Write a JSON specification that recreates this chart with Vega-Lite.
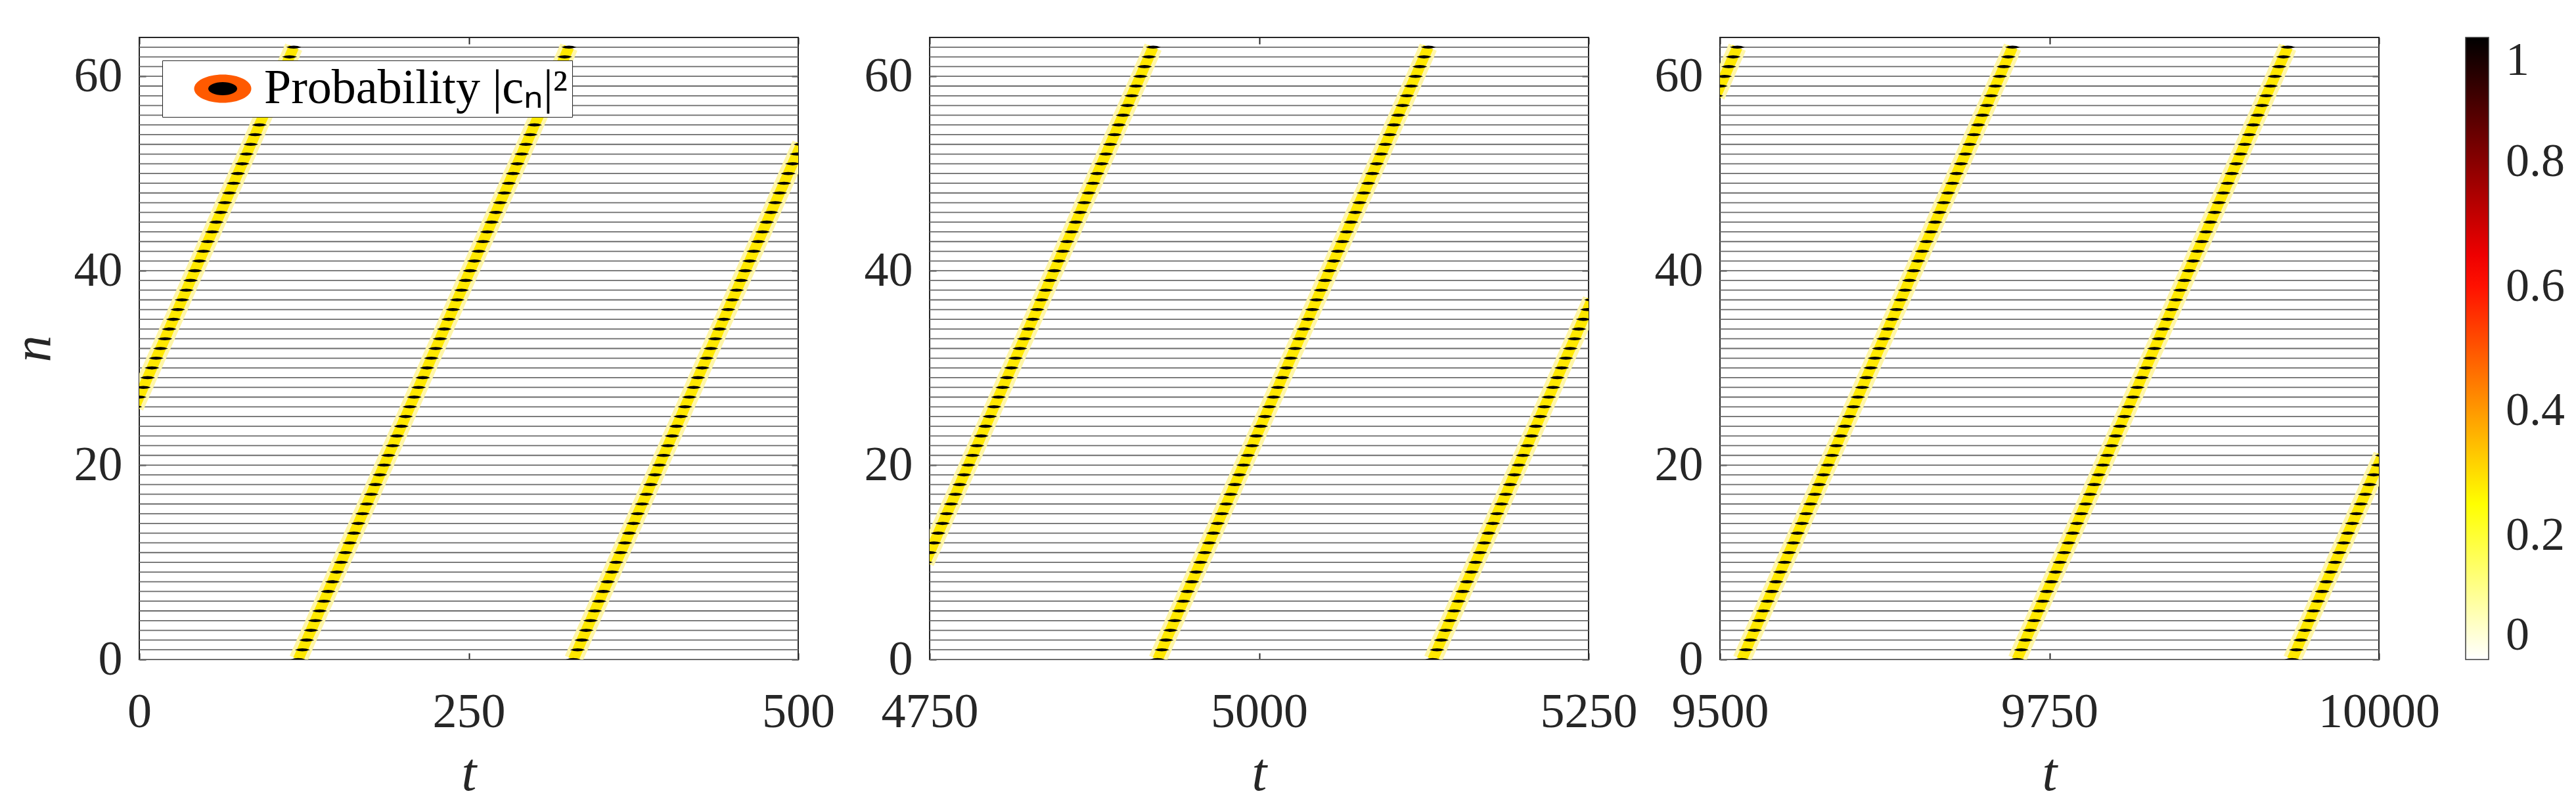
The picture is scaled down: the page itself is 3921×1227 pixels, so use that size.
{
"$schema": "https://vega.github.io/schema/vega-lite/v6.json",
"padding": {"left": 8, "top": 55, "right": 20, "bottom": 0},
"background": "white",
"datasets": {
"p1": [
{"s":"A","n":26,"t":-3.5,"p":1},{"s":"A","n":27,"t":-0.2,"p":1},{"s":"A","n":28,"t":3.1,"p":1},{"s":"A","n":29,"t":6.3,"p":1},{"s":"A","n":30,"t":9.6,"p":1},{"s":"A","n":31,"t":12.8,"p":1},{"s":"A","n":32,"t":16.1,"p":1},{"s":"A","n":33,"t":19.4,"p":1},{"s":"A","n":34,"t":22.6,"p":1},{"s":"A","n":35,"t":25.9,"p":1},{"s":"A","n":36,"t":29.2,"p":1},{"s":"A","n":37,"t":32.4,"p":1},{"s":"A","n":38,"t":35.7,"p":1},{"s":"A","n":39,"t":38.9,"p":1},{"s":"A","n":40,"t":42.2,"p":1},{"s":"A","n":41,"t":45.5,"p":1},{"s":"A","n":42,"t":48.7,"p":1},{"s":"A","n":43,"t":52,"p":1},{"s":"A","n":44,"t":55.3,"p":1},{"s":"A","n":45,"t":58.5,"p":1},{"s":"A","n":46,"t":61.8,"p":1},{"s":"A","n":47,"t":65,"p":1},{"s":"A","n":48,"t":68.3,"p":1},{"s":"A","n":49,"t":71.6,"p":1},{"s":"A","n":50,"t":74.8,"p":1},{"s":"A","n":51,"t":78.1,"p":1},{"s":"A","n":52,"t":81.4,"p":1},{"s":"A","n":53,"t":84.6,"p":1},{"s":"A","n":54,"t":87.9,"p":1},{"s":"A","n":55,"t":91.1,"p":1},{"s":"A","n":56,"t":94.4,"p":1},{"s":"A","n":57,"t":97.7,"p":1},{"s":"A","n":58,"t":100.9,"p":1},{"s":"A","n":59,"t":104.2,"p":1},{"s":"A","n":60,"t":107.5,"p":1},{"s":"A","n":61,"t":110.7,"p":1},{"s":"A","n":62,"t":114,"p":1},{"s":"A","n":63,"t":117.2,"p":1},
{"s":"B","n":0,"t":120.5,"p":1},{"s":"B","n":1,"t":123.8,"p":1},{"s":"B","n":2,"t":127,"p":1},{"s":"B","n":3,"t":130.3,"p":1},{"s":"B","n":4,"t":133.6,"p":1},{"s":"B","n":5,"t":136.8,"p":1},{"s":"B","n":6,"t":140.1,"p":1},{"s":"B","n":7,"t":143.3,"p":1},{"s":"B","n":8,"t":146.6,"p":1},{"s":"B","n":9,"t":149.9,"p":1},{"s":"B","n":10,"t":153.1,"p":1},{"s":"B","n":11,"t":156.4,"p":1},{"s":"B","n":12,"t":159.7,"p":1},{"s":"B","n":13,"t":162.9,"p":1},{"s":"B","n":14,"t":166.2,"p":1},{"s":"B","n":15,"t":169.4,"p":1},{"s":"B","n":16,"t":172.7,"p":1},{"s":"B","n":17,"t":176,"p":1},{"s":"B","n":18,"t":179.2,"p":1},{"s":"B","n":19,"t":182.5,"p":1},{"s":"B","n":20,"t":185.8,"p":1},{"s":"B","n":21,"t":189,"p":1},{"s":"B","n":22,"t":192.3,"p":1},{"s":"B","n":23,"t":195.5,"p":1},{"s":"B","n":24,"t":198.8,"p":1},{"s":"B","n":25,"t":202.1,"p":1},{"s":"B","n":26,"t":205.3,"p":1},{"s":"B","n":27,"t":208.6,"p":1},{"s":"B","n":28,"t":211.9,"p":1},{"s":"B","n":29,"t":215.1,"p":1},{"s":"B","n":30,"t":218.4,"p":1},{"s":"B","n":31,"t":221.6,"p":1},{"s":"B","n":32,"t":224.9,"p":1},{"s":"B","n":33,"t":228.2,"p":1},{"s":"B","n":34,"t":231.4,"p":1},{"s":"B","n":35,"t":234.7,"p":1},{"s":"B","n":36,"t":238,"p":1},{"s":"B","n":37,"t":241.2,"p":1},{"s":"B","n":38,"t":244.5,"p":1},{"s":"B","n":39,"t":247.7,"p":1},{"s":"B","n":40,"t":251,"p":1},{"s":"B","n":41,"t":254.3,"p":1},{"s":"B","n":42,"t":257.5,"p":1},{"s":"B","n":43,"t":260.8,"p":1},{"s":"B","n":44,"t":264.1,"p":1},{"s":"B","n":45,"t":267.3,"p":1},{"s":"B","n":46,"t":270.6,"p":1},{"s":"B","n":47,"t":273.8,"p":1},{"s":"B","n":48,"t":277.1,"p":1},{"s":"B","n":49,"t":280.4,"p":1},{"s":"B","n":50,"t":283.6,"p":1},{"s":"B","n":51,"t":286.9,"p":1},{"s":"B","n":52,"t":290.2,"p":1},{"s":"B","n":53,"t":293.4,"p":1},{"s":"B","n":54,"t":296.7,"p":1},{"s":"B","n":55,"t":299.9,"p":1},{"s":"B","n":56,"t":303.2,"p":1},{"s":"B","n":57,"t":306.5,"p":1},{"s":"B","n":58,"t":309.7,"p":1},{"s":"B","n":59,"t":313,"p":1},{"s":"B","n":60,"t":316.3,"p":1},{"s":"B","n":61,"t":319.5,"p":1},{"s":"B","n":62,"t":322.8,"p":1},{"s":"B","n":63,"t":326,"p":1},
{"s":"C","n":0,"t":329.3,"p":1},{"s":"C","n":1,"t":332.6,"p":1},{"s":"C","n":2,"t":335.8,"p":1},{"s":"C","n":3,"t":339.1,"p":1},{"s":"C","n":4,"t":342.4,"p":1},{"s":"C","n":5,"t":345.6,"p":1},{"s":"C","n":6,"t":348.9,"p":1},{"s":"C","n":7,"t":352.1,"p":1},{"s":"C","n":8,"t":355.4,"p":1},{"s":"C","n":9,"t":358.7,"p":1},{"s":"C","n":10,"t":361.9,"p":1},{"s":"C","n":11,"t":365.2,"p":1},{"s":"C","n":12,"t":368.5,"p":1},{"s":"C","n":13,"t":371.7,"p":1},{"s":"C","n":14,"t":375,"p":1},{"s":"C","n":15,"t":378.2,"p":1},{"s":"C","n":16,"t":381.5,"p":1},{"s":"C","n":17,"t":384.8,"p":1},{"s":"C","n":18,"t":388,"p":1},{"s":"C","n":19,"t":391.3,"p":1},{"s":"C","n":20,"t":394.6,"p":1},{"s":"C","n":21,"t":397.8,"p":1},{"s":"C","n":22,"t":401.1,"p":1},{"s":"C","n":23,"t":404.3,"p":1},{"s":"C","n":24,"t":407.6,"p":1},{"s":"C","n":25,"t":410.9,"p":1},{"s":"C","n":26,"t":414.1,"p":1},{"s":"C","n":27,"t":417.4,"p":1},{"s":"C","n":28,"t":420.7,"p":1},{"s":"C","n":29,"t":423.9,"p":1},{"s":"C","n":30,"t":427.2,"p":1},{"s":"C","n":31,"t":430.4,"p":1},{"s":"C","n":32,"t":433.7,"p":1},{"s":"C","n":33,"t":437,"p":1},{"s":"C","n":34,"t":440.2,"p":1},{"s":"C","n":35,"t":443.5,"p":1},{"s":"C","n":36,"t":446.8,"p":1},{"s":"C","n":37,"t":450,"p":1},{"s":"C","n":38,"t":453.3,"p":1},{"s":"C","n":39,"t":456.5,"p":1},{"s":"C","n":40,"t":459.8,"p":1},{"s":"C","n":41,"t":463.1,"p":1},{"s":"C","n":42,"t":466.3,"p":1},{"s":"C","n":43,"t":469.6,"p":1},{"s":"C","n":44,"t":472.9,"p":1},{"s":"C","n":45,"t":476.1,"p":1},{"s":"C","n":46,"t":479.4,"p":1},{"s":"C","n":47,"t":482.6,"p":1},{"s":"C","n":48,"t":485.9,"p":1},{"s":"C","n":49,"t":489.2,"p":1},{"s":"C","n":50,"t":492.4,"p":1},{"s":"C","n":51,"t":495.7,"p":1},{"s":"C","n":52,"t":499,"p":1},{"s":"C","n":53,"t":502.2,"p":1}
],
"p2": [
{"s":"A","n":10,"t":4746.7,"p":1},{"s":"A","n":11,"t":4750,"p":1},{"s":"A","n":12,"t":4753.3,"p":1},{"s":"A","n":13,"t":4756.5,"p":1},{"s":"A","n":14,"t":4759.8,"p":1},{"s":"A","n":15,"t":4763,"p":1},{"s":"A","n":16,"t":4766.3,"p":1},{"s":"A","n":17,"t":4769.6,"p":1},{"s":"A","n":18,"t":4772.8,"p":1},{"s":"A","n":19,"t":4776.1,"p":1},{"s":"A","n":20,"t":4779.4,"p":1},{"s":"A","n":21,"t":4782.6,"p":1},{"s":"A","n":22,"t":4785.9,"p":1},{"s":"A","n":23,"t":4789.1,"p":1},{"s":"A","n":24,"t":4792.4,"p":1},{"s":"A","n":25,"t":4795.7,"p":1},{"s":"A","n":26,"t":4798.9,"p":1},{"s":"A","n":27,"t":4802.2,"p":1},{"s":"A","n":28,"t":4805.5,"p":1},{"s":"A","n":29,"t":4808.7,"p":1},{"s":"A","n":30,"t":4812,"p":1},{"s":"A","n":31,"t":4815.2,"p":1},{"s":"A","n":32,"t":4818.5,"p":1},{"s":"A","n":33,"t":4821.8,"p":1},{"s":"A","n":34,"t":4825,"p":1},{"s":"A","n":35,"t":4828.3,"p":1},{"s":"A","n":36,"t":4831.6,"p":1},{"s":"A","n":37,"t":4834.8,"p":1},{"s":"A","n":38,"t":4838.1,"p":1},{"s":"A","n":39,"t":4841.3,"p":1},{"s":"A","n":40,"t":4844.6,"p":1},{"s":"A","n":41,"t":4847.9,"p":1},{"s":"A","n":42,"t":4851.1,"p":1},{"s":"A","n":43,"t":4854.4,"p":1},{"s":"A","n":44,"t":4857.7,"p":1},{"s":"A","n":45,"t":4860.9,"p":1},{"s":"A","n":46,"t":4864.2,"p":1},{"s":"A","n":47,"t":4867.4,"p":1},{"s":"A","n":48,"t":4870.7,"p":1},{"s":"A","n":49,"t":4874,"p":1},{"s":"A","n":50,"t":4877.2,"p":1},{"s":"A","n":51,"t":4880.5,"p":1},{"s":"A","n":52,"t":4883.8,"p":1},{"s":"A","n":53,"t":4887,"p":1},{"s":"A","n":54,"t":4890.3,"p":1},{"s":"A","n":55,"t":4893.5,"p":1},{"s":"A","n":56,"t":4896.8,"p":1},{"s":"A","n":57,"t":4900.1,"p":1},{"s":"A","n":58,"t":4903.3,"p":1},{"s":"A","n":59,"t":4906.6,"p":1},{"s":"A","n":60,"t":4909.9,"p":1},{"s":"A","n":61,"t":4913.1,"p":1},{"s":"A","n":62,"t":4916.4,"p":1},{"s":"A","n":63,"t":4919.6,"p":1},
{"s":"B","n":0,"t":4922.9,"p":1},{"s":"B","n":1,"t":4926.2,"p":1},{"s":"B","n":2,"t":4929.4,"p":1},{"s":"B","n":3,"t":4932.7,"p":1},{"s":"B","n":4,"t":4936,"p":1},{"s":"B","n":5,"t":4939.2,"p":1},{"s":"B","n":6,"t":4942.5,"p":1},{"s":"B","n":7,"t":4945.7,"p":1},{"s":"B","n":8,"t":4949,"p":1},{"s":"B","n":9,"t":4952.3,"p":1},{"s":"B","n":10,"t":4955.5,"p":1},{"s":"B","n":11,"t":4958.8,"p":1},{"s":"B","n":12,"t":4962.1,"p":1},{"s":"B","n":13,"t":4965.3,"p":1},{"s":"B","n":14,"t":4968.6,"p":1},{"s":"B","n":15,"t":4971.8,"p":1},{"s":"B","n":16,"t":4975.1,"p":1},{"s":"B","n":17,"t":4978.4,"p":1},{"s":"B","n":18,"t":4981.6,"p":1},{"s":"B","n":19,"t":4984.9,"p":1},{"s":"B","n":20,"t":4988.2,"p":1},{"s":"B","n":21,"t":4991.4,"p":1},{"s":"B","n":22,"t":4994.7,"p":1},{"s":"B","n":23,"t":4997.9,"p":1},{"s":"B","n":24,"t":5001.2,"p":1},{"s":"B","n":25,"t":5004.5,"p":1},{"s":"B","n":26,"t":5007.7,"p":1},{"s":"B","n":27,"t":5011,"p":1},{"s":"B","n":28,"t":5014.3,"p":1},{"s":"B","n":29,"t":5017.5,"p":1},{"s":"B","n":30,"t":5020.8,"p":1},{"s":"B","n":31,"t":5024,"p":1},{"s":"B","n":32,"t":5027.3,"p":1},{"s":"B","n":33,"t":5030.6,"p":1},{"s":"B","n":34,"t":5033.8,"p":1},{"s":"B","n":35,"t":5037.1,"p":1},{"s":"B","n":36,"t":5040.4,"p":1},{"s":"B","n":37,"t":5043.6,"p":1},{"s":"B","n":38,"t":5046.9,"p":1},{"s":"B","n":39,"t":5050.1,"p":1},{"s":"B","n":40,"t":5053.4,"p":1},{"s":"B","n":41,"t":5056.7,"p":1},{"s":"B","n":42,"t":5059.9,"p":1},{"s":"B","n":43,"t":5063.2,"p":1},{"s":"B","n":44,"t":5066.5,"p":1},{"s":"B","n":45,"t":5069.7,"p":1},{"s":"B","n":46,"t":5073,"p":1},{"s":"B","n":47,"t":5076.2,"p":1},{"s":"B","n":48,"t":5079.5,"p":1},{"s":"B","n":49,"t":5082.8,"p":1},{"s":"B","n":50,"t":5086,"p":1},{"s":"B","n":51,"t":5089.3,"p":1},{"s":"B","n":52,"t":5092.6,"p":1},{"s":"B","n":53,"t":5095.8,"p":1},{"s":"B","n":54,"t":5099.1,"p":1},{"s":"B","n":55,"t":5102.3,"p":1},{"s":"B","n":56,"t":5105.6,"p":1},{"s":"B","n":57,"t":5108.9,"p":1},{"s":"B","n":58,"t":5112.1,"p":1},{"s":"B","n":59,"t":5115.4,"p":1},{"s":"B","n":60,"t":5118.7,"p":1},{"s":"B","n":61,"t":5121.9,"p":1},{"s":"B","n":62,"t":5125.2,"p":1},{"s":"B","n":63,"t":5128.4,"p":1},
{"s":"C","n":0,"t":5131.7,"p":1},{"s":"C","n":1,"t":5135,"p":1},{"s":"C","n":2,"t":5138.2,"p":1},{"s":"C","n":3,"t":5141.5,"p":1},{"s":"C","n":4,"t":5144.8,"p":1},{"s":"C","n":5,"t":5148,"p":1},{"s":"C","n":6,"t":5151.3,"p":1},{"s":"C","n":7,"t":5154.5,"p":1},{"s":"C","n":8,"t":5157.8,"p":1},{"s":"C","n":9,"t":5161.1,"p":1},{"s":"C","n":10,"t":5164.3,"p":1},{"s":"C","n":11,"t":5167.6,"p":1},{"s":"C","n":12,"t":5170.9,"p":1},{"s":"C","n":13,"t":5174.1,"p":1},{"s":"C","n":14,"t":5177.4,"p":1},{"s":"C","n":15,"t":5180.6,"p":1},{"s":"C","n":16,"t":5183.9,"p":1},{"s":"C","n":17,"t":5187.2,"p":1},{"s":"C","n":18,"t":5190.4,"p":1},{"s":"C","n":19,"t":5193.7,"p":1},{"s":"C","n":20,"t":5197,"p":1},{"s":"C","n":21,"t":5200.2,"p":1},{"s":"C","n":22,"t":5203.5,"p":1},{"s":"C","n":23,"t":5206.7,"p":1},{"s":"C","n":24,"t":5210,"p":1},{"s":"C","n":25,"t":5213.3,"p":1},{"s":"C","n":26,"t":5216.5,"p":1},{"s":"C","n":27,"t":5219.8,"p":1},{"s":"C","n":28,"t":5223.1,"p":1},{"s":"C","n":29,"t":5226.3,"p":1},{"s":"C","n":30,"t":5229.6,"p":1},{"s":"C","n":31,"t":5232.8,"p":1},{"s":"C","n":32,"t":5236.1,"p":1},{"s":"C","n":33,"t":5239.4,"p":1},{"s":"C","n":34,"t":5242.6,"p":1},{"s":"C","n":35,"t":5245.9,"p":1},{"s":"C","n":36,"t":5249.2,"p":1},{"s":"C","n":37,"t":5252.4,"p":1}
],
"p3": [
{"s":"A","n":58,"t":9496.9,"p":1},{"s":"A","n":59,"t":9500.2,"p":1},{"s":"A","n":60,"t":9503.5,"p":1},{"s":"A","n":61,"t":9506.7,"p":1},{"s":"A","n":62,"t":9510,"p":1},{"s":"A","n":63,"t":9513.2,"p":1},
{"s":"B","n":0,"t":9516.5,"p":1},{"s":"B","n":1,"t":9519.8,"p":1},{"s":"B","n":2,"t":9523,"p":1},{"s":"B","n":3,"t":9526.3,"p":1},{"s":"B","n":4,"t":9529.6,"p":1},{"s":"B","n":5,"t":9532.8,"p":1},{"s":"B","n":6,"t":9536.1,"p":1},{"s":"B","n":7,"t":9539.3,"p":1},{"s":"B","n":8,"t":9542.6,"p":1},{"s":"B","n":9,"t":9545.9,"p":1},{"s":"B","n":10,"t":9549.1,"p":1},{"s":"B","n":11,"t":9552.4,"p":1},{"s":"B","n":12,"t":9555.7,"p":1},{"s":"B","n":13,"t":9558.9,"p":1},{"s":"B","n":14,"t":9562.2,"p":1},{"s":"B","n":15,"t":9565.4,"p":1},{"s":"B","n":16,"t":9568.7,"p":1},{"s":"B","n":17,"t":9572,"p":1},{"s":"B","n":18,"t":9575.2,"p":1},{"s":"B","n":19,"t":9578.5,"p":1},{"s":"B","n":20,"t":9581.8,"p":1},{"s":"B","n":21,"t":9585,"p":1},{"s":"B","n":22,"t":9588.3,"p":1},{"s":"B","n":23,"t":9591.5,"p":1},{"s":"B","n":24,"t":9594.8,"p":1},{"s":"B","n":25,"t":9598.1,"p":1},{"s":"B","n":26,"t":9601.3,"p":1},{"s":"B","n":27,"t":9604.6,"p":1},{"s":"B","n":28,"t":9607.9,"p":1},{"s":"B","n":29,"t":9611.1,"p":1},{"s":"B","n":30,"t":9614.4,"p":1},{"s":"B","n":31,"t":9617.6,"p":1},{"s":"B","n":32,"t":9620.9,"p":1},{"s":"B","n":33,"t":9624.2,"p":1},{"s":"B","n":34,"t":9627.4,"p":1},{"s":"B","n":35,"t":9630.7,"p":1},{"s":"B","n":36,"t":9634,"p":1},{"s":"B","n":37,"t":9637.2,"p":1},{"s":"B","n":38,"t":9640.5,"p":1},{"s":"B","n":39,"t":9643.7,"p":1},{"s":"B","n":40,"t":9647,"p":1},{"s":"B","n":41,"t":9650.3,"p":1},{"s":"B","n":42,"t":9653.5,"p":1},{"s":"B","n":43,"t":9656.8,"p":1},{"s":"B","n":44,"t":9660.1,"p":1},{"s":"B","n":45,"t":9663.3,"p":1},{"s":"B","n":46,"t":9666.6,"p":1},{"s":"B","n":47,"t":9669.8,"p":1},{"s":"B","n":48,"t":9673.1,"p":1},{"s":"B","n":49,"t":9676.4,"p":1},{"s":"B","n":50,"t":9679.6,"p":1},{"s":"B","n":51,"t":9682.9,"p":1},{"s":"B","n":52,"t":9686.2,"p":1},{"s":"B","n":53,"t":9689.4,"p":1},{"s":"B","n":54,"t":9692.7,"p":1},{"s":"B","n":55,"t":9695.9,"p":1},{"s":"B","n":56,"t":9699.2,"p":1},{"s":"B","n":57,"t":9702.5,"p":1},{"s":"B","n":58,"t":9705.7,"p":1},{"s":"B","n":59,"t":9709,"p":1},{"s":"B","n":60,"t":9712.3,"p":1},{"s":"B","n":61,"t":9715.5,"p":1},{"s":"B","n":62,"t":9718.8,"p":1},{"s":"B","n":63,"t":9722,"p":1},
{"s":"C","n":0,"t":9725.3,"p":1},{"s":"C","n":1,"t":9728.6,"p":1},{"s":"C","n":2,"t":9731.8,"p":1},{"s":"C","n":3,"t":9735.1,"p":1},{"s":"C","n":4,"t":9738.4,"p":1},{"s":"C","n":5,"t":9741.6,"p":1},{"s":"C","n":6,"t":9744.9,"p":1},{"s":"C","n":7,"t":9748.1,"p":1},{"s":"C","n":8,"t":9751.4,"p":1},{"s":"C","n":9,"t":9754.7,"p":1},{"s":"C","n":10,"t":9757.9,"p":1},{"s":"C","n":11,"t":9761.2,"p":1},{"s":"C","n":12,"t":9764.5,"p":1},{"s":"C","n":13,"t":9767.7,"p":1},{"s":"C","n":14,"t":9771,"p":1},{"s":"C","n":15,"t":9774.2,"p":1},{"s":"C","n":16,"t":9777.5,"p":1},{"s":"C","n":17,"t":9780.8,"p":1},{"s":"C","n":18,"t":9784,"p":1},{"s":"C","n":19,"t":9787.3,"p":1},{"s":"C","n":20,"t":9790.6,"p":1},{"s":"C","n":21,"t":9793.8,"p":1},{"s":"C","n":22,"t":9797.1,"p":1},{"s":"C","n":23,"t":9800.3,"p":1},{"s":"C","n":24,"t":9803.6,"p":1},{"s":"C","n":25,"t":9806.9,"p":1},{"s":"C","n":26,"t":9810.1,"p":1},{"s":"C","n":27,"t":9813.4,"p":1},{"s":"C","n":28,"t":9816.7,"p":1},{"s":"C","n":29,"t":9819.9,"p":1},{"s":"C","n":30,"t":9823.2,"p":1},{"s":"C","n":31,"t":9826.4,"p":1},{"s":"C","n":32,"t":9829.7,"p":1},{"s":"C","n":33,"t":9833,"p":1},{"s":"C","n":34,"t":9836.2,"p":1},{"s":"C","n":35,"t":9839.5,"p":1},{"s":"C","n":36,"t":9842.8,"p":1},{"s":"C","n":37,"t":9846,"p":1},{"s":"C","n":38,"t":9849.3,"p":1},{"s":"C","n":39,"t":9852.5,"p":1},{"s":"C","n":40,"t":9855.8,"p":1},{"s":"C","n":41,"t":9859.1,"p":1},{"s":"C","n":42,"t":9862.3,"p":1},{"s":"C","n":43,"t":9865.6,"p":1},{"s":"C","n":44,"t":9868.9,"p":1},{"s":"C","n":45,"t":9872.1,"p":1},{"s":"C","n":46,"t":9875.4,"p":1},{"s":"C","n":47,"t":9878.6,"p":1},{"s":"C","n":48,"t":9881.9,"p":1},{"s":"C","n":49,"t":9885.2,"p":1},{"s":"C","n":50,"t":9888.4,"p":1},{"s":"C","n":51,"t":9891.7,"p":1},{"s":"C","n":52,"t":9895,"p":1},{"s":"C","n":53,"t":9898.2,"p":1},{"s":"C","n":54,"t":9901.5,"p":1},{"s":"C","n":55,"t":9904.7,"p":1},{"s":"C","n":56,"t":9908,"p":1},{"s":"C","n":57,"t":9911.3,"p":1},{"s":"C","n":58,"t":9914.5,"p":1},{"s":"C","n":59,"t":9917.8,"p":1},{"s":"C","n":60,"t":9921.1,"p":1},{"s":"C","n":61,"t":9924.3,"p":1},{"s":"C","n":62,"t":9927.6,"p":1},{"s":"C","n":63,"t":9930.8,"p":1},
{"s":"D","n":0,"t":9934.1,"p":1},{"s":"D","n":1,"t":9937.4,"p":1},{"s":"D","n":2,"t":9940.6,"p":1},{"s":"D","n":3,"t":9943.9,"p":1},{"s":"D","n":4,"t":9947.2,"p":1},{"s":"D","n":5,"t":9950.4,"p":1},{"s":"D","n":6,"t":9953.7,"p":1},{"s":"D","n":7,"t":9956.9,"p":1},{"s":"D","n":8,"t":9960.2,"p":1},{"s":"D","n":9,"t":9963.5,"p":1},{"s":"D","n":10,"t":9966.7,"p":1},{"s":"D","n":11,"t":9970,"p":1},{"s":"D","n":12,"t":9973.3,"p":1},{"s":"D","n":13,"t":9976.5,"p":1},{"s":"D","n":14,"t":9979.8,"p":1},{"s":"D","n":15,"t":9983,"p":1},{"s":"D","n":16,"t":9986.3,"p":1},{"s":"D","n":17,"t":9989.6,"p":1},{"s":"D","n":18,"t":9992.8,"p":1},{"s":"D","n":19,"t":9996.1,"p":1},{"s":"D","n":20,"t":9999.4,"p":1},{"s":"D","n":21,"t":10002.6,"p":1}
]
},
"spacing": 200,
"bounds": "flush",
"resolve": {"legend": {"shape": "independent"}},
"hconcat": [
{
"width": 1003, "height": 947,
"data": {"name": "p1"},
"resolve": {"axis": {"x": "independent", "y": "independent"}, "scale": {"shape": "independent"}, "legend": {"shape": "independent"}},
"layer": [
{"transform": [{"filter": {"field": "s", "equal": "B"}}],
 "mark": {"type": "rule", "color": "#6b6b6b", "strokeWidth": 1.8},
 "encoding": {"y": {"field": "n", "type": "quantitative", "scale": {"domain": [0, 64], "nice": false, "zero": false}, "axis": null}}},
{"mark": {"type": "line", "clip": true, "color": "#fff6a8", "strokeWidth": 28, "strokeCap": "butt"},
 "encoding": {"x": {"field": "t", "type": "quantitative", "scale": {"domain": [0, 500], "nice": false, "zero": false}, "axis": null},
  "y": {"field": "n", "type": "quantitative", "axis": null}, "detail": {"field": "s"}}},
{"mark": {"type": "line", "clip": true, "color": "#ffe800", "strokeWidth": 16, "strokeCap": "butt"},
 "encoding": {"x": {"field": "t", "type": "quantitative", "axis": {"orient": "bottom", "values": [0, 250, 500], "format": "d", "tickSize": -10, "labelPadding": 54, "labelFlush": false, "labelOverlap": false, "domain": false, "grid": false, "title": "t", "titlePadding": 16}},
  "y": {"field": "n", "type": "quantitative", "axis": {"orient": "left", "values": [0, 20, 40, 60], "format": "d", "tickSize": -10, "labelPadding": 36, "labelOverlap": false, "domain": false, "grid": false, "title": "n", "titlePadding": 20}},
  "detail": {"field": "s"}}},
{"mark": {"type": "point", "clip": true, "filled": true, "opacity": 1, "strokeWidth": 0, "size": 530, "shape": "M -1 0 Q 0 -0.4 1 0 Q 0 0.4 -1 0 Z"},
 "encoding": {"x": {"field": "t", "type": "quantitative", "axis": {"orient": "top", "values": [0, 250, 500], "tickSize": -10, "labels": false, "domain": false, "grid": false, "title": null}},
  "y": {"field": "n", "type": "quantitative", "axis": {"orient": "right", "values": [0, 20, 40, 60], "tickSize": -10, "labels": false, "domain": false, "grid": false, "title": null}},
  "color": {"field": "p", "type": "quantitative", "scale": {"domain": [0, 0.25, 0.625, 1], "range": ["#ffffff", "#ffff00", "#ff0000", "#000000"], "interpolate": "rgb"},
   "legend": {"orient": "none", "legendX": 3541, "legendY": 0, "direction": "vertical", "gradientLength": 947, "gradientThickness": 35, "gradientStrokeColor": "#3a3a3a", "gradientStrokeWidth": 1.5, "title": null, "values": [0, 0.2, 0.4, 0.6, 0.8, 1], "format": "~g", "labelFont": "Liberation Serif", "labelFontSize": 72, "labelOffset": 26, "labelColor": "#262626", "labelBaseline": "middle", "labelOverlap": false, "padding": 0}}}},
{"transform": [{"filter": "datum.n < 0"}],
 "mark": {"type": "point", "filled": true, "color": "#ff5a00", "strokeWidth": 0, "opacity": 1},
 "encoding": {"x": {"field": "t", "type": "quantitative", "axis": null}, "y": {"field": "n", "type": "quantitative", "axis": null},
  "shape": {"field": "s", "type": "nominal", "scale": {"domain": ["Probability |cₙ|²"], "range": ["M -1.908 0 A 1.908 0.943 0 1 0 1.908 0 A 1.908 0.943 0 1 0 -1.908 0 Z"]},
   "legend": {"orient": "none", "legendX": 35, "legendY": 35, "padding": 6, "title": null, "strokeColor": "#262626", "fillColor": "#ffffff", "labelFont": "Liberation Serif", "labelFontSize": 74, "labelColor": "#000000", "labelLimit": 2000, "labelOffset": 26, "symbolOffset": 49, "symbolSize": 2080, "symbolStrokeWidth": 0, "symbolOpacity": 1}}}},
{"transform": [{"filter": "datum.n < 0"}],
 "mark": {"type": "point", "filled": true, "color": "#000000", "strokeWidth": 0, "opacity": 1},
 "encoding": {"x": {"field": "t", "type": "quantitative", "axis": null}, "y": {"field": "n", "type": "quantitative", "axis": null},
  "shape": {"field": "s", "type": "nominal", "scale": {"domain": ["Probability |cₙ|²"], "range": ["M -0.965 0 A 0.965 0.439 0 1 0 0.965 0 A 0.965 0.439 0 1 0 -0.965 0 Z"]},
   "legend": {"orient": "none", "legendX": 35, "legendY": 35, "padding": 6, "title": null, "labelFont": "Liberation Serif", "labelFontSize": 74, "labelColor": "#000000", "labelOpacity": 0, "labelLimit": 2000, "labelOffset": 26, "symbolOffset": 49, "symbolSize": 2080, "symbolStrokeWidth": 0, "symbolOpacity": 1}}}}
]
},
{
"width": 1003, "height": 947,
"data": {"name": "p2"},
"resolve": {"axis": {"x": "independent", "y": "independent"}},
"layer": [
{"transform": [{"filter": {"field": "s", "equal": "B"}}],
 "mark": {"type": "rule", "color": "#6b6b6b", "strokeWidth": 1.8},
 "encoding": {"y": {"field": "n", "type": "quantitative", "scale": {"domain": [0, 64], "nice": false, "zero": false}, "axis": null}}},
{"mark": {"type": "line", "clip": true, "color": "#fff6a8", "strokeWidth": 28, "strokeCap": "butt"},
 "encoding": {"x": {"field": "t", "type": "quantitative", "scale": {"domain": [4750, 5250], "nice": false, "zero": false}, "axis": null},
  "y": {"field": "n", "type": "quantitative", "axis": null}, "detail": {"field": "s"}}},
{"mark": {"type": "line", "clip": true, "color": "#ffe800", "strokeWidth": 16, "strokeCap": "butt"},
 "encoding": {"x": {"field": "t", "type": "quantitative", "axis": {"orient": "bottom", "values": [4750, 5000, 5250], "format": "d", "tickSize": -10, "labelPadding": 54, "labelFlush": false, "labelOverlap": false, "domain": false, "grid": false, "title": "t", "titlePadding": 16}},
  "y": {"field": "n", "type": "quantitative", "axis": {"orient": "left", "values": [0, 20, 40, 60], "format": "d", "tickSize": -10, "labelPadding": 36, "labelOverlap": false, "domain": false, "grid": false, "title": null}},
  "detail": {"field": "s"}}},
{"mark": {"type": "point", "clip": true, "filled": true, "opacity": 1, "strokeWidth": 0, "size": 530, "shape": "M -1 0 Q 0 -0.4 1 0 Q 0 0.4 -1 0 Z"},
 "encoding": {"x": {"field": "t", "type": "quantitative", "axis": {"orient": "top", "values": [4750, 5000, 5250], "tickSize": -10, "labels": false, "domain": false, "grid": false, "title": null}},
  "y": {"field": "n", "type": "quantitative", "axis": {"orient": "right", "values": [0, 20, 40, 60], "tickSize": -10, "labels": false, "domain": false, "grid": false, "title": null}},
  "color": {"field": "p", "type": "quantitative", "scale": {"domain": [0, 0.25, 0.625, 1], "range": ["#ffffff", "#ffff00", "#ff0000", "#000000"], "interpolate": "rgb"},
   "legend": {"orient": "none", "legendX": 3541, "legendY": 0, "direction": "vertical", "gradientLength": 947, "gradientThickness": 35, "gradientStrokeColor": "#3a3a3a", "gradientStrokeWidth": 1.5, "title": null, "values": [0, 0.2, 0.4, 0.6, 0.8, 1], "format": "~g", "labelFont": "Liberation Serif", "labelFontSize": 72, "labelOffset": 26, "labelColor": "#262626", "labelBaseline": "middle", "labelOverlap": false, "padding": 0}}}}
]
},
{
"width": 1003, "height": 947,
"data": {"name": "p3"},
"resolve": {"axis": {"x": "independent", "y": "independent"}},
"layer": [
{"transform": [{"filter": {"field": "s", "equal": "B"}}],
 "mark": {"type": "rule", "color": "#6b6b6b", "strokeWidth": 1.8},
 "encoding": {"y": {"field": "n", "type": "quantitative", "scale": {"domain": [0, 64], "nice": false, "zero": false}, "axis": null}}},
{"mark": {"type": "line", "clip": true, "color": "#fff6a8", "strokeWidth": 28, "strokeCap": "butt"},
 "encoding": {"x": {"field": "t", "type": "quantitative", "scale": {"domain": [9500, 10000], "nice": false, "zero": false}, "axis": null},
  "y": {"field": "n", "type": "quantitative", "axis": null}, "detail": {"field": "s"}}},
{"mark": {"type": "line", "clip": true, "color": "#ffe800", "strokeWidth": 16, "strokeCap": "butt"},
 "encoding": {"x": {"field": "t", "type": "quantitative", "axis": {"orient": "bottom", "values": [9500, 9750, 10000], "format": "d", "tickSize": -10, "labelPadding": 54, "labelFlush": false, "labelOverlap": false, "domain": false, "grid": false, "title": "t", "titlePadding": 16}},
  "y": {"field": "n", "type": "quantitative", "axis": {"orient": "left", "values": [0, 20, 40, 60], "format": "d", "tickSize": -10, "labelPadding": 36, "labelOverlap": false, "domain": false, "grid": false, "title": null}},
  "detail": {"field": "s"}}},
{"mark": {"type": "point", "clip": true, "filled": true, "opacity": 1, "strokeWidth": 0, "size": 530, "shape": "M -1 0 Q 0 -0.4 1 0 Q 0 0.4 -1 0 Z"},
 "encoding": {"x": {"field": "t", "type": "quantitative", "axis": {"orient": "top", "values": [9500, 9750, 10000], "tickSize": -10, "labels": false, "domain": false, "grid": false, "title": null}},
  "y": {"field": "n", "type": "quantitative", "axis": {"orient": "right", "values": [0, 20, 40, 60], "tickSize": -10, "labels": false, "domain": false, "grid": false, "title": null}},
  "color": {"field": "p", "type": "quantitative", "scale": {"domain": [0, 0.25, 0.625, 1], "range": ["#ffffff", "#ffff00", "#ff0000", "#000000"], "interpolate": "rgb"},
   "legend": {"orient": "none", "legendX": 3541, "legendY": 0, "direction": "vertical", "gradientLength": 947, "gradientThickness": 35, "gradientStrokeColor": "#3a3a3a", "gradientStrokeWidth": 1.5, "title": null, "values": [0, 0.2, 0.4, 0.6, 0.8, 1], "format": "~g", "labelFont": "Liberation Serif", "labelFontSize": 72, "labelOffset": 26, "labelColor": "#262626", "labelBaseline": "middle", "labelOverlap": false, "padding": 0}}}}
]
}
],
"config": {
"view": {"stroke": "#262626", "strokeWidth": 2},
"axis": {"labelFont": "Liberation Serif", "labelFontSize": 74, "labelColor": "#262626", "labelLimit": 600, "titleFont": "Liberation Serif", "titleFontSize": 82, "titleFontStyle": "italic", "titleFontWeight": "normal", "titleColor": "#262626", "tickColor": "#262626", "tickWidth": 2},
"legend": {"gradientVerticalMaxLength": 2000, "gradientHorizontalMaxLength": 2000}
}
}
